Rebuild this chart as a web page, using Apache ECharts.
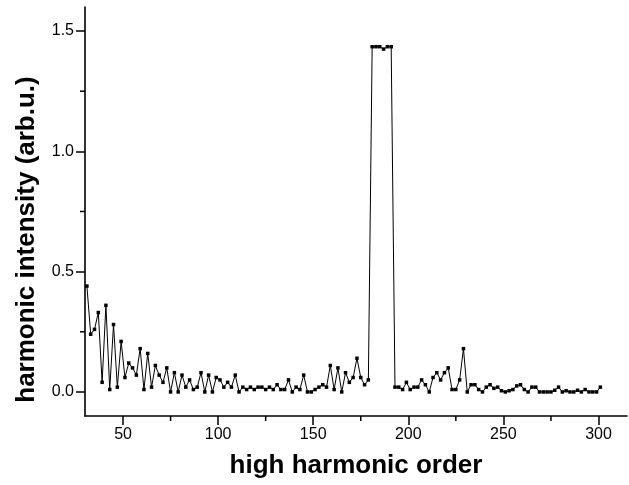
<!DOCTYPE html>
<html><head><meta charset="utf-8">
<script src="https://cdn.jsdelivr.net/npm/echarts@6/dist/echarts.min.js"></script>
<style>html,body{margin:0;padding:0;background:#fff}#c{width:629px;height:485px}</style>
</head><body><div id="c"></div>
<script>
const harmonicOrder = [31,33,35,37,39,41,43,45,47,49,51,53,55,57,59,61,63,65,67,69,71,73,75,77,79,81,83,85,87,89,91,93,95,97,99,101,103,105,107,109,111,113,115,117,119,121,123,125,127,129,131,133,135,137,139,141,143,145,147,149,151,153,155,157,159,161,163,165,167,169,171,173,175,177,179,181,183,185,187,189,191,193,195,197,199,201,203,205,207,209,211,213,215,217,219,221,223,225,227,229,231,233,235,237,239,241,243,245,247,249,251,253,255,257,259,261,263,265,267,269,271,273,275,277,279,281,283,285,287,289,291,293,295,297,299,301];
const intensity = [0.44,0.24,0.26,0.33,0.04,0.36,0.01,0.28,0.02,0.21,0.06,0.12,0.10,0.07,0.18,0.01,0.16,0.02,0.11,0.07,0.04,0.10,0.00,0.08,0.00,0.07,0.02,0.05,0.01,0.02,0.08,0.00,0.07,0.00,0.06,0.05,0.02,0.04,0.02,0.07,0.00,0.02,0.01,0.02,0.01,0.02,0.02,0.01,0.02,0.01,0.03,0.01,0.01,0.05,0.00,0.02,0.01,0.07,0.00,0.00,0.01,0.02,0.03,0.02,0.11,0.01,0.10,0.00,0.08,0.04,0.06,0.14,0.06,0.03,0.05,1.435,1.435,1.435,1.425,1.435,1.435,0.02,0.02,0.01,0.04,0.01,0.02,0.02,0.05,0.03,0.00,0.06,0.08,0.05,0.08,0.10,0.01,0.01,0.05,0.18,0.00,0.03,0.03,0.01,0.00,0.02,0.03,0.015,0.02,0.005,0.00,0.005,0.01,0.025,0.03,0.01,0.00,0.02,0.02,0.00,0.00,0.00,0.00,0.007,0.02,0.00,0.005,0.00,0.00,0.007,0.00,0.01,0.00,0.00,0.00,0.02];
const xMajorTicks = [50,100,150,200,250,300];
const xMinorTicks = [75,125,175,225,275];
const yMajorTicks = [0,0.5,1.0,1.5];
const yMinorTicks = [0.25,0.75,1.25];

const font = 'Liberation Sans, Arial, sans-serif';
const chart = echarts.init(document.getElementById('c'), null, {renderer:'canvas'});
const seriesData = harmonicOrder.map((h,i)=>[h,intensity[i]]);

function minorTickX(params, api){
  const cs = params.coordSys;
  const x = api.coord([api.value(0), 0])[0];
  const yb = cs.y + cs.height;
  return {type:'line', shape:{x1:x,y1:yb,x2:x,y2:yb+5}, style:{stroke:'#000',lineWidth:1.5}};
}
function minorTickY(params, api){
  const cs = params.coordSys;
  const y = api.coord([50, api.value(1)])[1];
  return {type:'line', shape:{x1:cs.x-5,y1:y,x2:cs.x,y2:y}, style:{stroke:'#000',lineWidth:1.5}};
}

chart.setOption({
  animation:false,
  backgroundColor:'#fff',
  grid:{left:85,right:2,top:7,bottom:69,containLabel:false},
  xAxis:{
    type:'value',min:30,max:315,position:'bottom',
    axisLine:{show:true,onZero:false,lineStyle:{color:'#000',width:1.6}},
    axisTick:{show:true,inside:false,length:9,lineStyle:{color:'#000',width:1.5},customValues:xMajorTicks},
    axisLabel:{customValues:xMajorTicks,color:'#000',fontSize:16,fontFamily:font,margin:11},
    splitLine:{show:false},
    name:'high harmonic order',nameLocation:'middle',nameGap:37,
    nameTextStyle:{fontSize:26,fontWeight:'bold',color:'#000',fontFamily:font}
  },
  yAxis:{
    type:'value',min:-0.1,max:1.6,position:'left',
    axisLine:{show:true,onZero:false,lineStyle:{color:'#000',width:1.6}},
    axisTick:{show:true,inside:false,length:9,lineStyle:{color:'#000',width:1.5},customValues:yMajorTicks},
    axisLabel:{customValues:yMajorTicks,color:'#000',fontSize:16,fontFamily:font,margin:11,formatter:v=>v.toFixed(1)},
    splitLine:{show:false},
    name:'harmonic intensity (arb.u.)',nameLocation:'middle',nameGap:45,
    nameTextStyle:{fontSize:26,fontWeight:'bold',color:'#000',fontFamily:font,padding:[0,56,0,0]}
  },
  series:[{
    type:'line',data:seriesData,
    symbol:'rect',symbolSize:3.5,showSymbol:true,
    itemStyle:{color:'#000'},lineStyle:{color:'#000',width:1},
    emphasis:{disabled:true},z:3
  },{
    type:'custom',renderItem:minorTickX,data:xMinorTicks.map(v=>[v,0]),silent:true,clip:false,z:2
  },{
    type:'custom',renderItem:minorTickY,data:yMinorTicks.map(v=>[50,v]),silent:true,clip:false,z:2
  }]
});
</script></body></html>
